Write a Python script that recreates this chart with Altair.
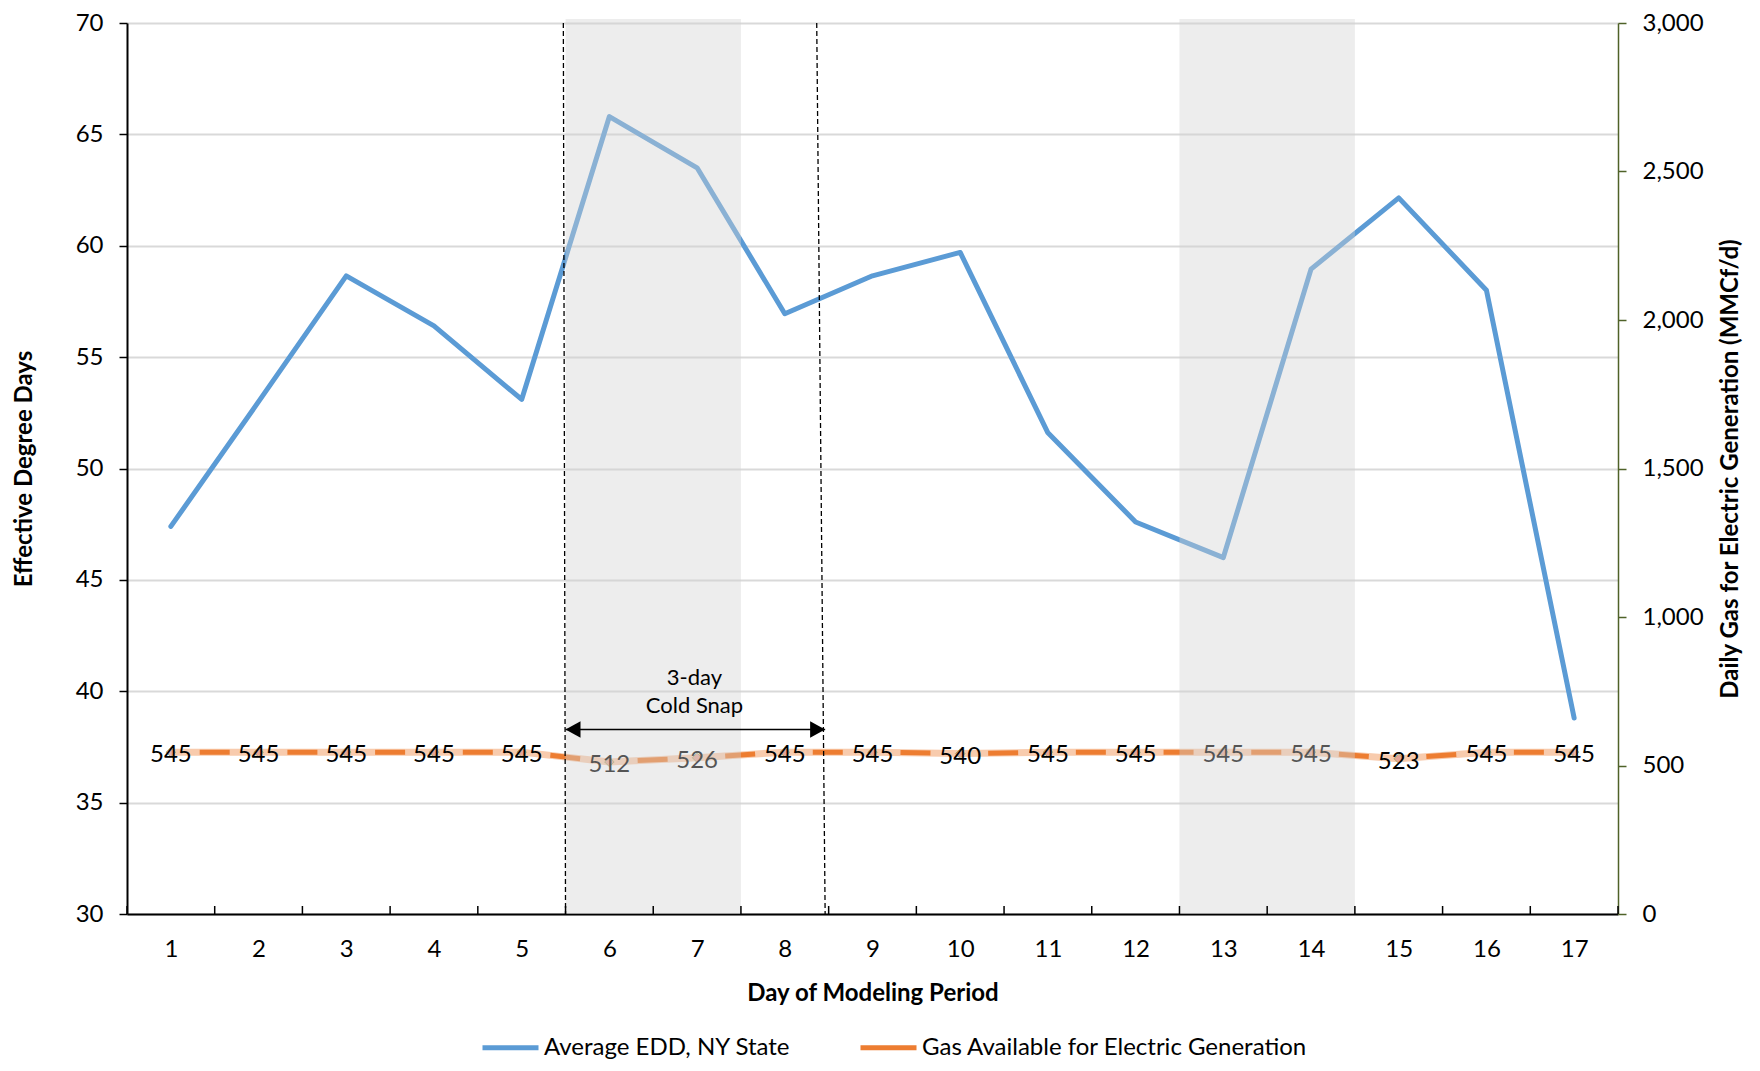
import altair as alt
import pandas as pd

# ---------------- data ----------------
days = list(range(1, 18))
edd_values = [47.4, 53.0, 58.65, 56.4, 53.1, 65.8, 63.5, 56.95, 58.65, 59.7,
              51.6, 47.6, 46.0, 58.95, 62.15, 58.0, 38.8]
gas_values = [545, 545, 545, 545, 545, 512, 526, 545, 545, 540,
              545, 545, 545, 545, 523, 545, 545]
series_names = ["Average EDD, NY State", "Gas Available for Electric Generation"]

band_start = [5.5, 12.5]
band_end = [7.5, 14.5]

snap_line_top_x = [5.475, 8.364]
snap_line_bottom_x = [5.5, 8.46]
snap_line_top_y = [70, 70]
snap_line_bottom_y = [30, 30]

arrow_from = [5.5]
arrow_to = [8.46]
arrow_y = [38.28]

note_text = ["3-day", "Cold Snap"]
note_x = [6.97, 6.97]
note_y = [40.6, 39.33]

boundary_ticks = [0.5 + i for i in range(18)]

left_ticks = [30, 35, 40, 45, 50, 55, 60, 65, 70]
right_ticks = [0, 500, 1000, 1500, 2000, 2500, 3000]

# ---------------- tables ----------------
df_edd = pd.DataFrame({"day": days, "value": edd_values, "series": series_names[0]})
df_gas = pd.DataFrame({"day": days, "value": gas_values})
df_band = pd.DataFrame({"start": band_start, "end": band_end})
df_vlines = pd.DataFrame({"xt": snap_line_top_x, "xb": snap_line_bottom_x,
                          "yt": snap_line_top_y, "yb": snap_line_bottom_y})
df_arrow = pd.DataFrame({"x1": arrow_from, "x2": arrow_to, "y": arrow_y})
df_note = pd.DataFrame({"x": note_x, "y": note_y, "t": note_text})
df_ticks = pd.DataFrame({"b": boundary_ticks})

FONT = "Lato"
TOP = 23          # page y of plot top
BOTTOM = 914      # page y of plot bottom
W, H = 1491, BOTTOM - TOP
CANVAS_END = 1064

xs = alt.Scale(domain=[0.5, 17.5], nice=False, zero=False)
ys_left = alt.Scale(domain=[30, 70], nice=False, zero=False)
ys_right = alt.Scale(domain=[0, 3000], nice=False, zero=False)
color_scale = alt.Scale(domain=series_names, range=["#5B9BD5", "#ED7D31"])

x_axis = alt.Axis(values=days, title="Day of Modeling Period", ticks=False, tickSize=0,
                  labelPadding=23, titlePadding=20, domainColor="black", domainWidth=2,
                  labelFontSize=24, titleFontSize=24, titleFontWeight="bold",
                  grid=False, labelColor="black", titleColor="black",
                  labelFont=FONT, titleFont=FONT, labelAngle=0)

left_axis = alt.Axis(values=left_ticks, title="Effective Degree Days", orient="left",
                     tickSize=8, tickColor="black", tickWidth=1.5,
                     domainColor="black", domainWidth=2, labelPadding=16, titlePadding=39,
                     grid=True, gridColor="#D9D9D9", gridWidth=2,
                     labelFontSize=24, titleFontSize=24, titleFontWeight="bold",
                     labelColor="black", titleColor="black", labelFont=FONT, titleFont=FONT)

right_axis = alt.Axis(values=right_ticks, format=",d",
                      title="Daily Gas for Electric Generation (MMCf/d)", orient="right",
                      tickSize=8, tickColor="#4F6228", tickWidth=1.5,
                      domainColor="#4F6228", domainWidth=1.5, labelPadding=16, titlePadding=15,
                      titleAngle=270, titleBaseline="top",
                      grid=False, labelFontSize=24, titleFontSize=24, titleFontWeight="bold",
                      labelColor="black", titleColor="black", labelFont=FONT, titleFont=FONT)

legend = alt.Legend(orient="none", legendX=353, legendY=1045 - TOP - 28, direction="horizontal",
                    title=None, symbolType="stroke", symbolSize=3136, symbolStrokeWidth=5,
                    labelFontSize=24, labelFont=FONT, labelColor="black", labelLimit=600,
                    columnPadding=59, labelOffset=3, padding=0)


def X(field):
    return alt.X(field, scale=xs, axis=x_axis)


# ---------------- group A: left axis series ----------------
blue = alt.Chart(df_edd).mark_line(strokeWidth=5, strokeCap="round", strokeJoin="round").encode(
    x=X("day:Q"),
    y=alt.Y("value:Q", scale=ys_left, axis=left_axis),
    color=alt.Color("series:N", scale=color_scale, legend=legend),
)
group_a = alt.layer(blue)

# ---------------- group B: right axis series ----------------
peach = alt.Chart(df_gas).mark_line(color="#F8CBAD", strokeWidth=7).encode(
    x=X("day:Q"),
    y=alt.Y("value:Q", scale=ys_right, axis=right_axis),
)
dashes = alt.Chart(df_gas).mark_line(color="#ED7D31", strokeWidth=5,
                                      strokeDash=[30, 57.7], strokeDashOffset=58.85).encode(
    x=X("day:Q"),
    y=alt.Y("value:Q", scale=ys_right, axis=right_axis),
)
diamonds = alt.Chart(df_gas).mark_point(shape="diamond", filled=True, fill="#D98C8A",
                                        stroke="#76923C", strokeWidth=1, size=90,
                                        opacity=0.6).encode(
    x=X("day:Q"),
    y=alt.Y("value:Q", scale=ys_right, axis=right_axis),
)
labels = alt.Chart(df_gas).mark_text(font=FONT, fontSize=24, color="black", dy=3,
                                     align="center", baseline="middle").encode(
    x=X("day:Q"),
    y=alt.Y("value:Q", scale=ys_right, axis=right_axis),
    text=alt.Text("value:Q"),
)
bands = alt.Chart(df_band).mark_rect(color="#D2D2D2", opacity=0.4).encode(
    x=X("start:Q"),
    x2="end:Q",
    y=alt.value(-4),
    y2=alt.value(H),
)
group_b = alt.layer(peach, dashes, diamonds, labels, bands)

# ---------------- group C: annotations ----------------
vlines = alt.Chart(df_vlines).mark_rule(color="black", strokeWidth=1.3, strokeDash=[5, 3]).encode(
    x=X("xt:Q"),
    x2="xb:Q",
    y=alt.Y("yt:Q", scale=ys_left, axis=None),
    y2="yb:Q",
)
shaft = alt.Chart(df_arrow).mark_rule(color="black", strokeWidth=1.5).encode(
    x=X("x1:Q"),
    x2="x2:Q",
    y=alt.Y("y:Q", scale=ys_left, axis=None),
)
head_left = alt.Chart(df_arrow).mark_point(shape="M0,0L2,-1.1L2,1.1Z", filled=True,
                                           color="black", size=225, opacity=1).encode(
    x=X("x1:Q"),
    y=alt.Y("y:Q", scale=ys_left, axis=None),
)
head_right = alt.Chart(df_arrow).mark_point(shape="M0,0L-2,-1.1L-2,1.1Z", filled=True,
                                            color="black", size=225, opacity=1).encode(
    x=X("x2:Q"),
    y=alt.Y("y:Q", scale=ys_left, axis=None),
)
note = alt.Chart(df_note).mark_text(font=FONT, fontSize=22, color="black",
                                    align="center", baseline="middle").encode(
    x=X("x:Q"),
    y=alt.Y("y:Q", scale=ys_left, axis=None),
    text="t:N",
)
xticks = alt.Chart(df_ticks).mark_rule(color="black", strokeWidth=1.5).encode(
    x=X("b:Q"),
    y=alt.value(H - 8),
    y2=alt.value(H),
)
group_c = alt.layer(vlines, shaft, head_left, head_right, note, xticks)

chart = alt.layer(group_a, group_b, group_c).resolve_scale(y="independent").properties(
    width=W, height=H,
    padding={"left": 119, "top": TOP - 8, "right": 130, "bottom": CANVAS_END - 8 - (TOP - 8) - H},
    autosize=alt.AutoSizeParams(type="none"),
    background="white",
).configure_view(stroke=None)

chart.save("out.html", embed_options={"renderer": "svg", "actions": False})
